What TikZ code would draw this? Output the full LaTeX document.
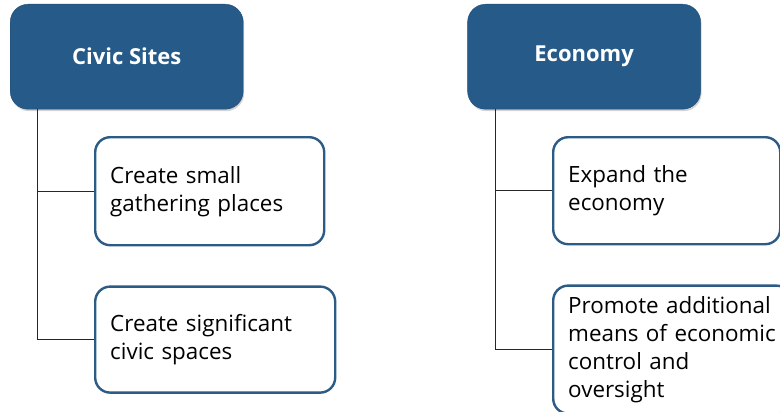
\documentclass[tikz,border=0pt]{standalone}
\usepackage{fontspec}
\setmainfont{Open Sans}
\usepackage{tikz}
\usetikzlibrary{positioning,shadows}
\definecolor{TopicBlue}{HTML}{265A89}
\definecolor{TaskEdge}{HTML}{2C5B86}

\begin{document}
\begin{tikzpicture}[x=1pt, y=-1pt,
topic/.style={rectangle, rounded corners=18pt, fill=TopicBlue, draw=TopicBlue!85!black, minimum width=233pt, minimum height=105pt, inner sep=0pt, text=white, font=\fontsize{22}{26}\selectfont\bfseries, drop shadow={opacity=0.35, shadow xshift=1pt, shadow yshift=-2pt}},
task/.style={rectangle, rounded corners=15pt, draw=TaskEdge, line width=2.4pt, fill=white, inner xsep=15pt, inner ysep=0pt, align=left, font=\fontsize{22.4}{28}\selectfont},
branch/.style={draw=black!85, line width=0.8pt},
]

\clip (0,0) rectangle (780,412);

% top level
\node[topic, anchor=north west] (civic) at (10,4) {Civic Sites};
\node[topic, right=224pt of civic] (econ) {Economy};

% civic sites column
\node[task, anchor=north west, text width=199pt, minimum height=108pt] (gather) at (94,136) {Create small\\gathering places};
\node[task, below=39pt of gather.south west, anchor=north west, text width=210pt, minimum height=106pt] (spaces) {Create significant\\civic spaces};

% economy column
\node[task, anchor=north west, text width=197pt, minimum height=107pt] (expand) at (552,136) {Expand the\\economy};
\node[task, below=39pt of expand.south west, anchor=north west, text width=208pt, minimum height=128pt] (oversight) {Promote additional\\means of economic\\control and\\oversight};

\coordinate (civictrunk) at ([xshift=27pt]civic.south west);
\coordinate (econtrunk) at ([xshift=28pt]econ.south west);

\draw[branch] (civictrunk) |- (gather.west);
\draw[branch] (civictrunk) |- (spaces.west);
\draw[branch] (econtrunk) |- (expand.west);
\draw[branch] (econtrunk) |- (oversight.west);

\end{tikzpicture}
\end{document}
